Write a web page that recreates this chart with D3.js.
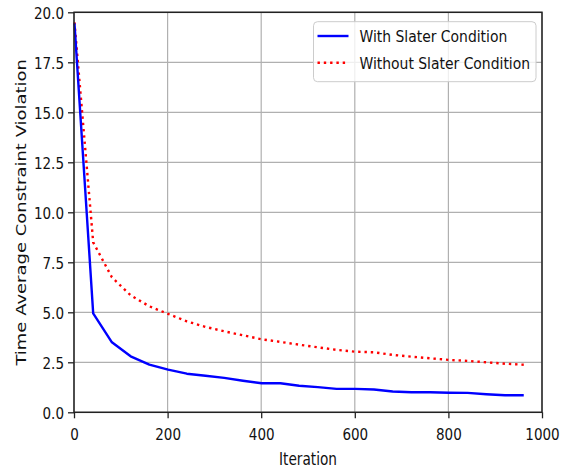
<!DOCTYPE html>
<html>
<head>
<meta charset="utf-8">
<script src="https://cdn.jsdelivr.net/npm/d3@7"></script>
<style>
  html, body { margin: 0; padding: 0; background: #fff; }
  svg { display: block; }
  text { font-family: "DejaVu Sans", sans-serif; fill: #111; }
</style>
</head>
<body>
<script>
// Iterations at which the running averages were recorded
const iterations = [1, 41, 81, 121, 161, 201, 241, 281, 321, 361, 401, 441, 481,
                    521, 561, 601, 641, 681, 721, 761, 801, 841, 881, 921, 961];

// Time-average constraint violation, with and without the Slater condition
const withSlater = [19.45, 4.95, 3.5, 2.8, 2.38, 2.13, 1.93, 1.83, 1.72, 1.58, 1.45, 1.45, 1.33,
                    1.26, 1.17, 1.17, 1.14, 1.04, 1.0, 1.0, 0.98, 0.97, 0.9, 0.85, 0.85];
const withoutSlater = [19.5, 8.5, 6.75, 5.85, 5.3, 4.92, 4.55, 4.27, 4.05, 3.85, 3.65, 3.52, 3.38,
                       3.25, 3.12, 3.03, 3.0, 2.87, 2.78, 2.7, 2.62, 2.57, 2.5, 2.43, 2.38];

const seriesNames = ["With Slater Condition", "Without Slater Condition"];
const xTicks = [0, 200, 400, 600, 800, 1000];
const yTicks = [0, 2.5, 5, 7.5, 10, 12.5, 15, 17.5, 20];
const xLabel = "Iteration";
const yLabel = "Time Average Constraint Violation";

const W = 568, H = 470;
const plot = { left: 74, right: 542, top: 12.3, bottom: 412.3 };
// glyphs are drawn horizontally condensed
const tickFont = 16.5, tickSqueeze = 0.82;
const titleFont = 18, titleSqueeze = 0.76;
const legendFont = 16, legendSqueeze = 0.87;

const svg = d3.select("body").append("svg")
  .attr("width", W).attr("height", H);

svg.append("rect").attr("width", W).attr("height", H).attr("fill", "#fff");

const x = d3.scaleLinear().domain([0, 1000]).range([plot.left, plot.right]);
const y = d3.scaleLinear().domain([0, 20]).range([plot.bottom, plot.top]);

// grid
const grid = svg.append("g").attr("stroke", "#b0b0b0").attr("stroke-width", 1.2);
grid.selectAll("line.vx").data(xTicks).join("line")
  .attr("x1", d => x(d)).attr("x2", d => x(d))
  .attr("y1", plot.top).attr("y2", plot.bottom);
grid.selectAll("line.hy").data(yTicks).join("line")
  .attr("y1", d => y(d)).attr("y2", d => y(d))
  .attr("x1", plot.left).attr("x2", plot.right);

// series
const rows = iterations.map((it, i) => ({ it, a: withSlater[i], b: withoutSlater[i] }));
const lineA = d3.line().x(d => x(d.it)).y(d => y(d.a));
const lineB = d3.line().x(d => x(d.it)).y(d => y(d.b));

svg.append("path").datum(rows)
  .attr("d", lineB)
  .attr("fill", "none").attr("stroke", "#ff0000")
  .attr("stroke-width", 2.4).attr("stroke-dasharray", "2.4,3.9");

svg.append("path").datum(rows)
  .attr("d", lineA)
  .attr("fill", "none").attr("stroke", "#0000ff")
  .attr("stroke-width", 2.4).attr("stroke-linejoin", "round");

// axes
const xAxis = svg.append("g")
  .attr("transform", `translate(0,${plot.bottom})`)
  .call(d3.axisBottom(x).tickValues(xTicks).tickFormat(d3.format("d")).tickSize(6).tickSizeOuter(0));
const yAxis = svg.append("g")
  .attr("transform", `translate(${plot.left},0)`)
  .call(d3.axisLeft(y).tickValues(yTicks).tickFormat(d3.format(".1f")).tickSize(6).tickSizeOuter(0));

[xAxis, yAxis].forEach(g => {
  g.select(".domain").remove();
  g.selectAll(".tick line").attr("stroke", "#222").attr("stroke-width", 1.3);
  g.selectAll(".tick text").attr("font-size", tickFont).attr("fill", "#111")
    .attr("font-family", "DejaVu Sans");
});
xAxis.selectAll(".tick text")
  .attr("x", null).attr("y", null).attr("dy", null)
  .attr("text-anchor", "middle")
  .attr("transform", `translate(0,28) scale(${tickSqueeze},1)`);
yAxis.selectAll(".tick text")
  .attr("x", null).attr("y", null).attr("dy", null)
  .attr("text-anchor", "end")
  .attr("transform", `translate(-10,6) scale(${tickSqueeze},1)`);

// frame
svg.append("rect")
  .attr("x", plot.left).attr("y", plot.top)
  .attr("width", plot.right - plot.left).attr("height", plot.bottom - plot.top)
  .attr("fill", "none").attr("stroke", "#222").attr("stroke-width", 1.5);

// axis titles
svg.append("text")
  .attr("transform", `translate(${(plot.left + plot.right) / 2},465) scale(${titleSqueeze},1)`)
  .attr("text-anchor", "middle").attr("font-size", titleFont)
  .text(xLabel);
svg.append("text")
  .attr("transform", `translate(25.5,${(plot.top + plot.bottom) / 2}) rotate(-90) scale(1,${titleSqueeze})`)
  .attr("text-anchor", "middle").attr("font-size", titleFont)
  .text(yLabel);

// legend
const leg = svg.append("g").attr("transform", "translate(313.5,21.7)");
leg.append("rect")
  .attr("width", 222.5).attr("height", 60).attr("rx", 4).attr("ry", 4)
  .attr("fill", "#fff").attr("fill-opacity", 0.8)
  .attr("stroke", "#cccccc").attr("stroke-width", 1);
const legendStyles = [
  { color: "#0000ff", dash: null },
  { color: "#ff0000", dash: "2.4,3.9" }
];
seriesNames.forEach((name, i) => {
  const cy = 14.3 + i * 26.7;
  leg.append("line")
    .attr("x1", 4).attr("x2", 35).attr("y1", cy).attr("y2", cy)
    .attr("stroke", legendStyles[i].color).attr("stroke-width", 2.4)
    .attr("stroke-dasharray", legendStyles[i].dash);
  leg.append("text")
    .attr("transform", `translate(46,${cy + 5.8}) scale(${legendSqueeze},1)`)
    .attr("font-size", legendFont)
    .text(name);
});
</script>
</body>
</html>
